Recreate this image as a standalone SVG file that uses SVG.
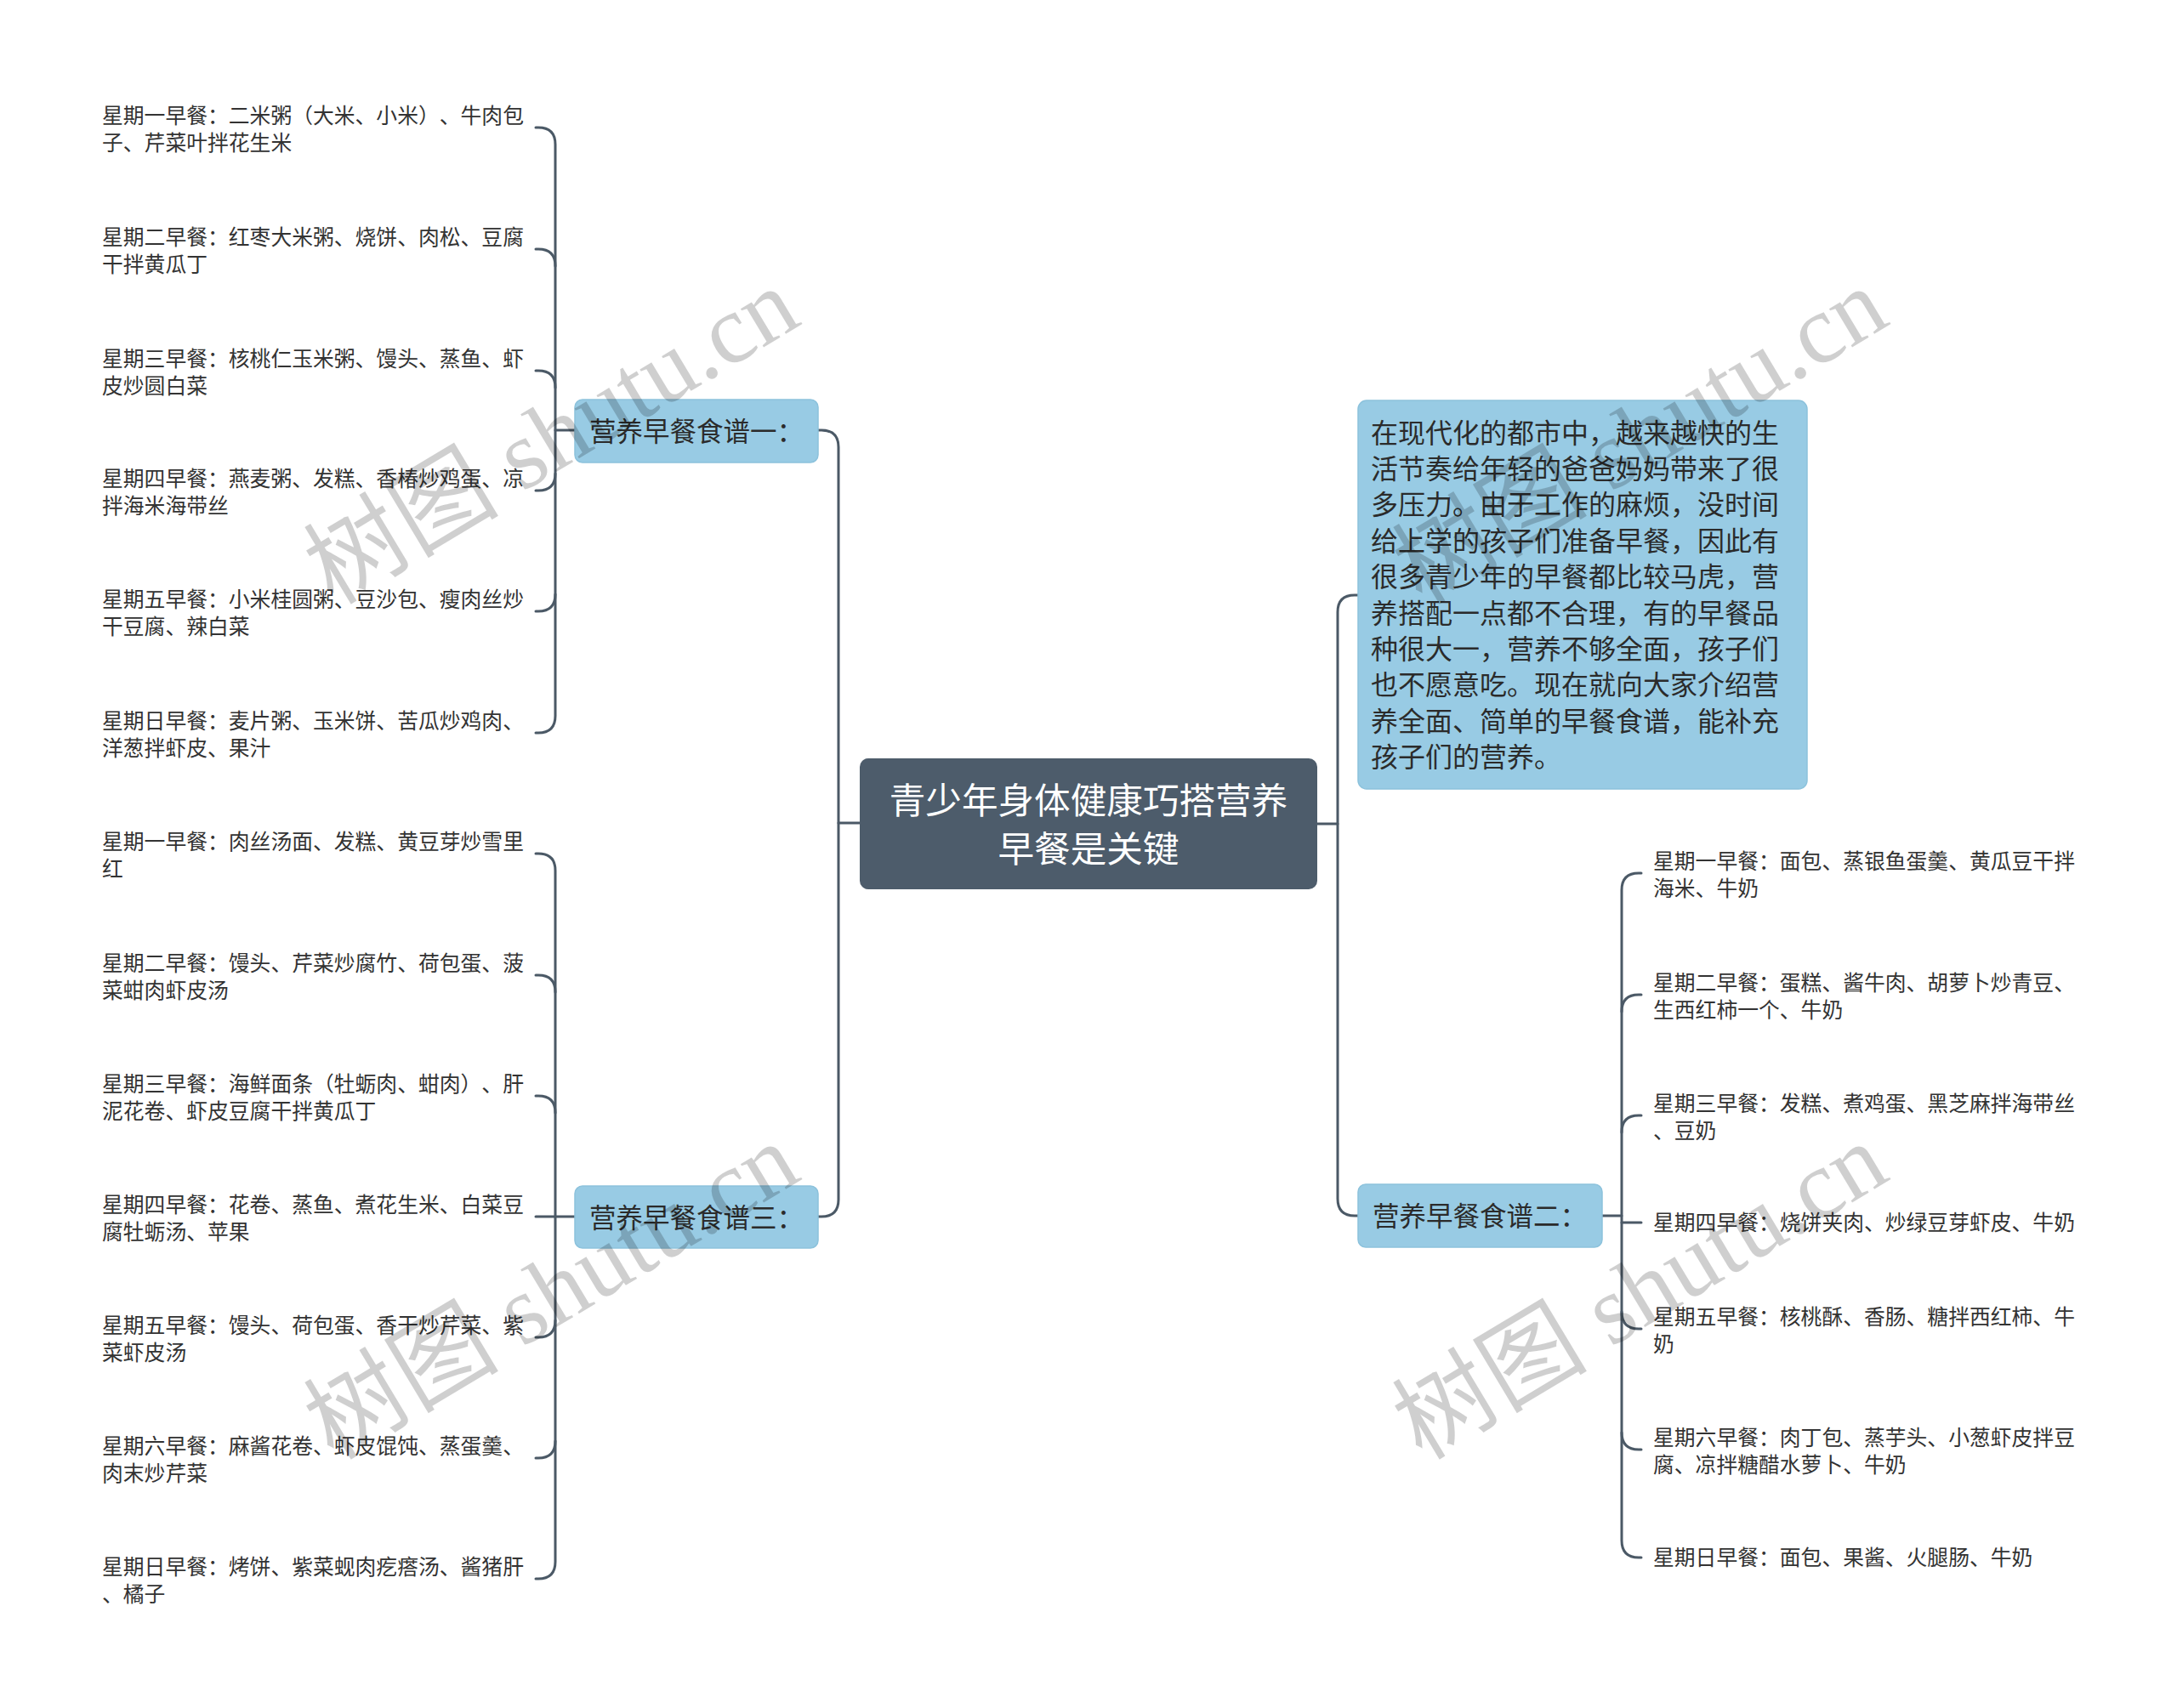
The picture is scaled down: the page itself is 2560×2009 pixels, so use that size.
<svg xmlns="http://www.w3.org/2000/svg" width="2560" height="2009" viewBox="0 0 2560 2009">
<style>
text{text-spacing-trim:space-all}
.bg{fill:#ffffff}
.conn path{fill:none;stroke:#4b5966;stroke-width:3;stroke-linecap:round}
.center rect{fill:#4d5c6b}
.center text{fill:#ffffff;font-family:"Liberation Sans","Noto Sans CJK SC",sans-serif;font-size:42.6px;text-anchor:middle}
.branch rect{fill:#98cbe4;stroke:#8cc2dc;stroke-width:1.5}
.branch text{fill:#2b2b2b;font-family:"Liberation Sans","Noto Sans CJK SC",sans-serif;font-size:31.5px}
.intro text{fill:#2b2b2b;font-family:"Liberation Sans","Noto Sans CJK SC",sans-serif;font-size:32px}
.leaf text{fill:#333333;font-family:"Liberation Sans","Noto Sans CJK SC",sans-serif;font-size:24.8px}
.wm{fill:#000000;fill-opacity:0.19;font-family:"Liberation Serif","Noto Sans CJK SC",serif;font-size:115px;text-anchor:middle}
</style>
<rect class="bg" x="0" y="0" width="2560" height="2009"/>

<g id="connectors" class="conn">
  <path d="M1011,968 L986,968"/>
  <path d="M962,506 L966,506 Q986,506 986,526 L986,1411 Q986,1431 966,1431 L962,1431"/>
  <path d="M1549,969 L1573,969"/>
  <path d="M1597,700 L1593,700 Q1573,700 1573,720 L1573,1410 Q1573,1430 1593,1430 L1597,1430"/>
  <path d="M676,506 L653,506"/>
  <path d="M630,150 L633,150 Q653,150 653,170 L653,842 Q653,862 633,862 L630,862"/>
  <path d="M630,293 L633,293 Q653,293 653,313"/>
  <path d="M630,436 L633,436 Q653,436 653,456"/>
  <path d="M630,577 L633,577 Q653,577 653,557"/>
  <path d="M630,719 L633,719 Q653,719 653,699"/>
  <path d="M676,1431 L630,1431"/>
  <path d="M630,1004 L633,1004 Q653,1004 653,1024 L653,1837 Q653,1857 633,1857 L630,1857"/>
  <path d="M630,1147 L633,1147 Q653,1147 653,1167"/>
  <path d="M630,1289 L633,1289 Q653,1289 653,1309"/>
  <path d="M630,1573 L633,1573 Q653,1573 653,1553"/>
  <path d="M630,1715 L633,1715 Q653,1715 653,1695"/>
  <path d="M1884,1430 L1907,1430"/>
  <path d="M1930,1027 L1927,1027 Q1907,1027 1907,1047 L1907,1812 Q1907,1832 1927,1832 L1930,1832"/>
  <path d="M1930,1170 L1927,1170 Q1907,1170 1907,1190"/>
  <path d="M1930,1312 L1927,1312 Q1907,1312 1907,1332"/>
  <path d="M1907,1438 L1930,1438"/>
  <path d="M1930,1563 L1927,1563 Q1907,1563 1907,1543"/>
  <path d="M1930,1705 L1927,1705 Q1907,1705 1907,1685"/>
</g>

<g id="node-center" class="center">
  <rect x="1011" y="892" width="538" height="154" rx="10"/>
  <text x="1280" y="957">青少年身体健康巧搭营养</text>
  <text x="1280" y="1014">早餐是关键</text>
</g>

<g id="node-intro" class="intro">
  <rect x="1597" y="471" width="528" height="457" rx="10" fill="#98cbe4" stroke="#8cc2dc" stroke-width="1.5"/>
  <text x="1612" y="520.5">在现代化的都市中，越来越快的生</text>
  <text x="1612" y="562.9">活节奏给年轻的爸爸妈妈带来了很</text>
  <text x="1612" y="605.3">多压力。由于工作的麻烦，没时间</text>
  <text x="1612" y="647.7">给上学的孩子们准备早餐，因此有</text>
  <text x="1612" y="690.1">很多青少年的早餐都比较马虎，营</text>
  <text x="1612" y="732.5">养搭配一点都不合理，有的早餐品</text>
  <text x="1612" y="774.9">种很大一，营养不够全面，孩子们</text>
  <text x="1612" y="817.3">也不愿意吃。现在就向大家介绍营</text>
  <text x="1612" y="859.7">养全面、简单的早餐食谱，能补充</text>
  <text x="1612" y="902.1">孩子们的营养。</text>
</g>

<g id="node-branch1" class="branch">
  <rect x="676" y="470" width="286" height="74" rx="9"/>
  <text x="693" y="519">营养早餐食谱一：</text>
</g>
<g id="node-branch3" class="branch">
  <rect x="676" y="1395" width="286" height="73" rx="9"/>
  <text x="693" y="1444">营养早餐食谱三：</text>
</g>
<g id="node-branch2" class="branch">
  <rect x="1597" y="1393" width="287" height="74" rx="9"/>
  <text x="1614" y="1442">营养早餐食谱二：</text>
</g>

<g id="leaves-branch1" class="leaf">
  <g id="leaf-1-1"><text x="120" y="144.5">星期一早餐：二米粥（大米、小米）、牛肉包</text><text x="120" y="177">子、芹菜叶拌花生米</text></g>
  <g id="leaf-1-2"><text x="120" y="287.5">星期二早餐：红枣大米粥、烧饼、肉松、豆腐</text><text x="120" y="320">干拌黄瓜丁</text></g>
  <g id="leaf-1-3"><text x="120" y="430.5">星期三早餐：核桃仁玉米粥、馒头、蒸鱼、虾</text><text x="120" y="463">皮炒圆白菜</text></g>
  <g id="leaf-1-4"><text x="120" y="571.5">星期四早餐：燕麦粥、发糕、香椿炒鸡蛋、凉</text><text x="120" y="604">拌海米海带丝</text></g>
  <g id="leaf-1-5"><text x="120" y="713.5">星期五早餐：小米桂圆粥、豆沙包、瘦肉丝炒</text><text x="120" y="746">干豆腐、辣白菜</text></g>
  <g id="leaf-1-6"><text x="120" y="856.5">星期日早餐：麦片粥、玉米饼、苦瓜炒鸡肉、</text><text x="120" y="889">洋葱拌虾皮、果汁</text></g>
</g>

<g id="leaves-branch3" class="leaf">
  <g id="leaf-3-1"><text x="120" y="998.5">星期一早餐：肉丝汤面、发糕、黄豆芽炒雪里</text><text x="120" y="1031">红</text></g>
  <g id="leaf-3-2"><text x="120" y="1141.5">星期二早餐：馒头、芹菜炒腐竹、荷包蛋、菠</text><text x="120" y="1174">菜蚶肉虾皮汤</text></g>
  <g id="leaf-3-3"><text x="120" y="1283.5">星期三早餐：海鲜面条（牡蛎肉、蚶肉）、肝</text><text x="120" y="1316">泥花卷、虾皮豆腐干拌黄瓜丁</text></g>
  <g id="leaf-3-4"><text x="120" y="1425.5">星期四早餐：花卷、蒸鱼、煮花生米、白菜豆</text><text x="120" y="1458">腐牡蛎汤、苹果</text></g>
  <g id="leaf-3-5"><text x="120" y="1567.5">星期五早餐：馒头、荷包蛋、香干炒芹菜、紫</text><text x="120" y="1600">菜虾皮汤</text></g>
  <g id="leaf-3-6"><text x="120" y="1709.5">星期六早餐：麻酱花卷、虾皮馄饨、蒸蛋羹、</text><text x="120" y="1742">肉末炒芹菜</text></g>
  <g id="leaf-3-7"><text x="120" y="1851.5">星期日早餐：烤饼、紫菜蚬肉疙瘩汤、酱猪肝</text><text x="120" y="1884">、橘子</text></g>
</g>

<g id="leaves-branch2" class="leaf">
  <g id="leaf-2-1"><text x="1944" y="1021.5">星期一早餐：面包、蒸银鱼蛋羹、黄瓜豆干拌</text><text x="1944" y="1054">海米、牛奶</text></g>
  <g id="leaf-2-2"><text x="1944" y="1164.5">星期二早餐：蛋糕、酱牛肉、胡萝卜炒青豆、</text><text x="1944" y="1197">生西红柿一个、牛奶</text></g>
  <g id="leaf-2-3"><text x="1944" y="1306.5">星期三早餐：发糕、煮鸡蛋、黑芝麻拌海带丝</text><text x="1944" y="1339">、豆奶</text></g>
  <g id="leaf-2-4"><text x="1944" y="1447">星期四早餐：烧饼夹肉、炒绿豆芽虾皮、牛奶</text></g>
  <g id="leaf-2-5"><text x="1944" y="1557.5">星期五早餐：核桃酥、香肠、糖拌西红柿、牛</text><text x="1944" y="1590">奶</text></g>
  <g id="leaf-2-6"><text x="1944" y="1699.5">星期六早餐：肉丁包、蒸芋头、小葱虾皮拌豆</text><text x="1944" y="1732">腐、凉拌糖醋水萝卜、牛奶</text></g>
  <g id="leaf-2-7"><text x="1944" y="1841">星期日早餐：面包、果酱、火腿肠、牛奶</text></g>
</g>

<g id="watermarks">
  <text class="wm" transform="translate(648,512) rotate(-31)" y="40">树图 shutu.cn</text>
  <text class="wm" transform="translate(1928,512) rotate(-31)" y="40">树图 shutu.cn</text>
  <text class="wm" transform="translate(648,1518) rotate(-31)" y="40">树图 shutu.cn</text>
  <text class="wm" transform="translate(1928,1518) rotate(-31)" y="40">树图 shutu.cn</text>
</g>
</svg>
